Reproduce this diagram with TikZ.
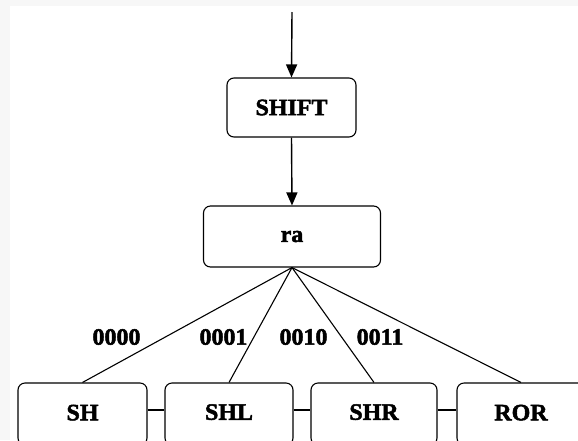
\documentclass[tikz,border=0pt]{standalone}
\usepackage{fontspec}
\setmainfont[FakeStretch=1.02,FakeBold=2]{Liberation Serif}
\usetikzlibrary{arrows.meta}
\begin{document}
\begin{tikzpicture}[x=1pt,y=-1pt,
  box/.style={draw, line width=1.1pt, rounded corners=7pt, inner sep=0pt, font=\fontsize{23.5}{26}\selectfont\bfseries},
  lbl/.style={inner sep=0pt, font=\fontsize{23.5}{26}\selectfont\bfseries},
  conn/.style={line width=1.1pt},
  arr/.style={line width=1.4pt, -{Triangle[length=13pt,width=11pt]}}]
\useasboundingbox (0,0) rectangle (578,440);
\fill[black!3] (0,0) rectangle (578,440);
\fill[white] (10,6) rectangle (578,440);
\coordinate (top) at (292,12);
\node[box, minimum width=129pt, minimum height=59pt] (shift) at (291.5,107.5) {SHIFT};
\node[box, minimum width=177pt, minimum height=61pt] (ra) at (292,236.5) {ra};
\node[box, minimum width=129pt, minimum height=62pt] (sh) at (82.5,414) {\raisebox{3pt}{SH}};
\node[box, minimum width=128pt, minimum height=62pt] (shl) at (229,414) {\raisebox{4pt}{SHL}};
\node[box, minimum width=126pt, minimum height=62pt] (shr) at (374,414) {\raisebox{4pt}{SHR}};
\node[box, minimum width=128pt, minimum height=62pt] (ror) at (521,414) {\raisebox{3pt}{ROR}};
\draw[arr] (top) -- (shift.north);
\draw[arr] (shift.south) -- (ra.north);
\draw[conn] (ra.south) -- (sh.north);
\draw[conn] (ra.south) -- (shl.north);
\draw[conn] (ra.south) -- (shr.north);
\draw[conn] (ra.south) -- (ror.north);
\draw[conn] ([yshift=4pt]sh.east) -- ([yshift=4pt]shl.west);
\draw[conn] ([yshift=4pt]shl.east) -- ([yshift=4pt]shr.west);
\draw[conn] ([yshift=4pt]shr.east) -- ([yshift=4pt]ror.west);
\node[lbl] (l0) at (116.5,337) {0000};
\node[lbl] (l1) at (223.5,337) {0001};
\node[lbl] (l2) at (303.5,337) {0010};
\node[lbl] (l3) at (380,337) {0011};
\end{tikzpicture}
\end{document}
